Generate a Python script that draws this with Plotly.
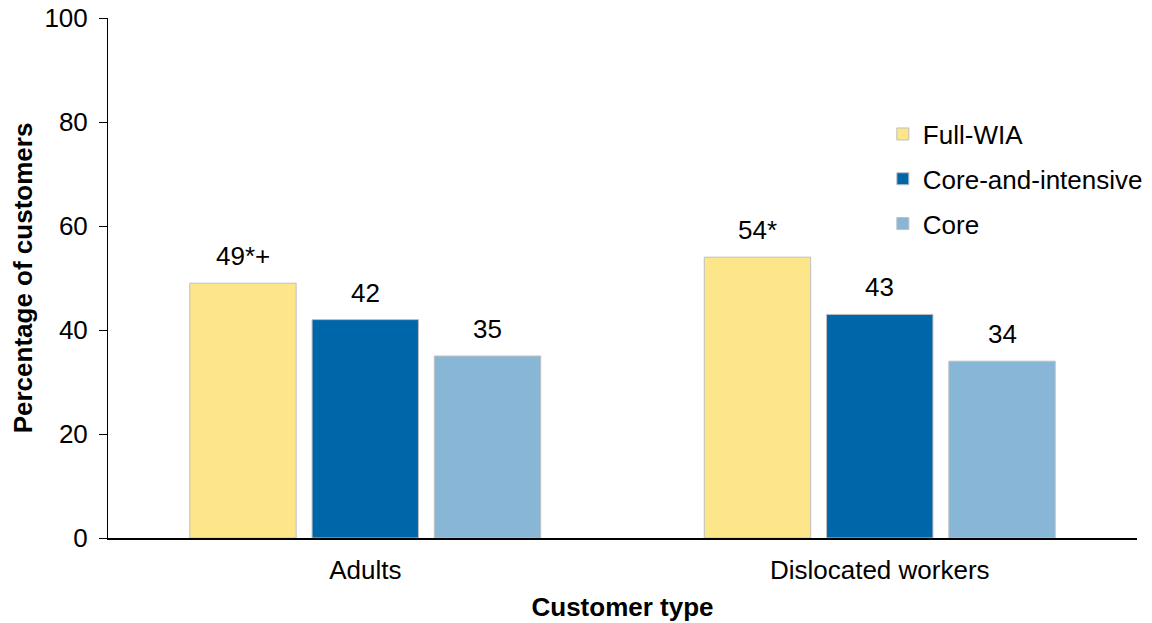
import plotly.graph_objects as go

categories = ["Adults", "Dislocated workers"]
series_names = ["Full-WIA", "Core-and-intensive", "Core"]
full_wia = [49, 54]
core_intensive = [42, 43]
core = [35, 34]
labels_full_wia = ["49*+", "54*"]
labels_core_intensive = ["42", "43"]
labels_core = ["35", "34"]
colors = ["#FDE58A", "#0066AA", "#88B6D6"]

values = [full_wia, core_intensive, core]
labels = [labels_full_wia, labels_core_intensive, labels_core]

FONT = "Liberation Sans, Arial, sans-serif"
FS = 26
BARGAP = 0.287
BARGROUPGAP = 0.13

fig = go.Figure()
for i, name in enumerate(series_names):
    fig.add_trace(go.Bar(
        x=categories, y=values[i], name=name,
        marker=dict(color=colors[i], line=dict(color="#BFBFBF", width=1)),
        legendgroup=name,
    ))

# value labels above bars, placed via the category axis
n = len(series_names)
slot = (1 - BARGAP) / n
for i in range(n):
    off = (i - (n - 1) / 2) * slot
    for j, cat in enumerate(categories):
        fig.add_annotation(
            x=j + off, y=values[i][j], xref="x", yref="y",
            text=labels[i][j], showarrow=False, yanchor="bottom",
            yshift=10, font=dict(size=FS, color="black", family=FONT),
        )

fig.update_layout(
    width=1152, height=623,
    margin=dict(l=100, r=23, t=10, b=93),
    paper_bgcolor="white", plot_bgcolor="white",
    barmode="group", bargap=BARGAP, bargroupgap=BARGROUPGAP,
    font=dict(family=FONT, color="black", size=FS),
    legend=dict(x=0.753, y=0.822, xanchor="left", yanchor="top",
                font=dict(size=FS, family=FONT), tracegroupgap=8,
                bgcolor="rgba(0,0,0,0)"),
    xaxis=dict(showline=True, linecolor="black", linewidth=1.5, ticks="",
               tickfont=dict(size=FS), showgrid=False, automargin=False,
               ticklabelstandoff=8, ticklabeloverflow="allow",
               title=dict(text="<b>Customer type</b>", font=dict(size=FS), standoff=14)),
    yaxis=dict(range=[0, 100], dtick=20, showline=True, linecolor="black", linewidth=1,
               ticks="outside", ticklen=8, tickcolor="black", showgrid=False, zeroline=False,
               tickfont=dict(size=FS), automargin=False, ticklabelstandoff=6,
               ticklabeloverflow="allow",
               title=dict(text="<b>Percentage of customers</b>", font=dict(size=FS), standoff=26)),
)

fig.write_html("out.html")
